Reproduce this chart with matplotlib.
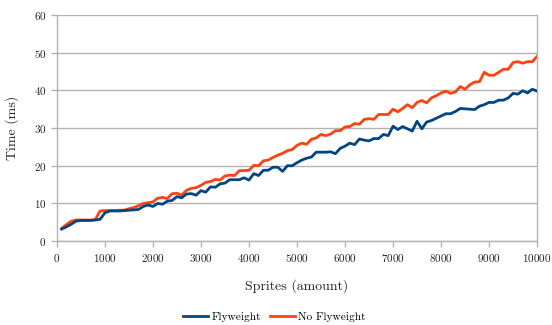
import matplotlib
matplotlib.use("Agg")
import matplotlib.pyplot as plt

sprites = list(range(100, 10001, 100))

flyweight = [
    3.2, 3.8, 4.5, 5.3, 5.5, 5.5, 5.5, 5.6, 5.8, 7.5,
    8.0, 8.0, 8.0, 8.1, 8.2, 8.3, 8.4, 9.2, 9.6, 9.2,
    10.0, 9.8, 10.6, 10.8, 11.8, 11.5, 12.5, 12.6, 12.2, 13.4,
    13.0, 14.4, 14.3, 15.2, 15.4, 16.3, 16.3, 16.3, 16.8, 16.2,
    17.9, 17.4, 18.8, 18.8, 19.6, 19.6, 18.5, 20.0, 20.0, 20.8,
    21.5, 22.0, 22.3, 23.6, 23.6, 23.6, 23.7, 23.2, 24.6, 25.2,
    26.0, 25.6, 27.1, 26.8, 26.6, 27.2, 27.2, 28.3, 28.0, 30.5,
    29.6, 30.4, 29.8, 29.2, 31.8, 29.8, 31.6, 32.0, 32.6, 33.2,
    33.8, 33.8, 34.4, 35.2, 35.1, 35.0, 34.9, 35.8, 36.2, 36.8,
    36.8, 37.4, 37.4, 38.0, 39.2, 39.0, 39.9, 39.3, 40.3, 39.8,
]

no_flyweight = [
    3.4, 4.4, 5.3, 5.6, 5.6, 5.6, 5.6, 5.7, 8.0, 8.1,
    8.1, 8.1, 8.2, 8.2, 8.6, 8.9, 9.4, 10.0, 10.2, 10.4,
    11.4, 11.6, 11.3, 12.6, 12.7, 12.2, 13.5, 14.0, 14.2, 14.8,
    15.6, 15.8, 16.4, 16.2, 17.3, 17.5, 17.4, 18.7, 18.7, 18.8,
    20.1, 20.0, 21.3, 21.5, 22.2, 22.8, 23.3, 24.0, 24.3, 25.4,
    26.0, 25.7, 27.0, 27.4, 28.3, 28.0, 28.4, 29.3, 29.3, 30.3,
    30.4, 31.2, 31.0, 32.3, 32.5, 32.3, 33.6, 33.6, 33.6, 35.0,
    34.3, 35.2, 36.2, 35.4, 36.8, 37.3, 36.7, 38.0, 38.6, 39.3,
    39.8, 39.2, 39.6, 41.0, 40.3, 41.5, 42.2, 42.3, 44.8, 44.0,
    44.0, 44.8, 45.6, 45.6, 47.4, 47.6, 47.2, 47.6, 47.6, 49.0,
]

x_ticks = list(range(0, 10001, 1000))
y_ticks = list(range(0, 61, 10))

plt.rcParams['font.family'] = ['cmr10', 'DejaVu Serif']
plt.rcParams['axes.formatter.use_mathtext'] = True

fig = plt.figure(figsize=(5.52, 3.25), dpi=100)
ax = fig.add_axes([0.103, 0.258, 0.870, 0.696])

grid_c = '#b3b3b3'
ax.plot(sprites, flyweight, color='#004586', lw=2.0, label='Flyweight', zorder=3)
ax.plot(sprites, no_flyweight, color='#ff420e', lw=2.0, label='No Flyweight', zorder=2)

ax.set_xlim(0, 10000)
ax.set_ylim(0, 60)
ax.set_xticks(x_ticks)
ax.set_yticks(y_ticks)
ax.yaxis.grid(True, color=grid_c, lw=1.0)
ax.set_axisbelow(True)
for s in ['left', 'bottom', 'right']:
    ax.spines[s].set_color(grid_c)
    ax.spines[s].set_linewidth(1.0)
ax.spines['top'].set_visible(False)
ax.tick_params(axis='both', colors=grid_c, labelcolor='#222222', labelsize=8, length=4, width=1.0)

ax.set_xlabel('Sprites (amount)', fontsize=10, labelpad=11, color='#222222')
ax.set_ylabel('Time (ms)', fontsize=10, labelpad=11, color='#222222')

fig.legend(loc='center', bbox_to_anchor=(0.497, 0.025), ncol=2, frameon=False,
           fontsize=8.2, handlelength=2.2, handletextpad=0.3, columnspacing=0.8)

fig.savefig('out.png', dpi=100)
